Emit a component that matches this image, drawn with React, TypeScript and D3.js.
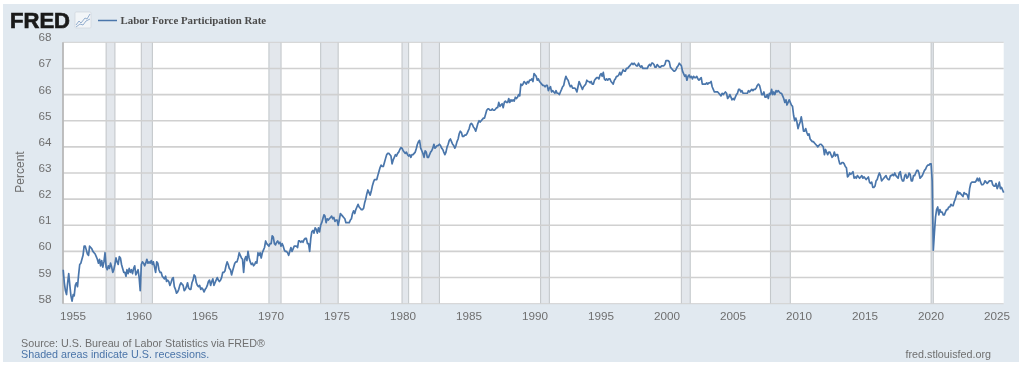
import React from "react";
import * as d3 from "d3";

const startYear = 1954;
const startMonth = 4; // May
const rate: number[][] = [
  [59.3,58.8,58.5,58.35,58.8,59.15,58.7,58.3],
  [58.1,58.35,58.3,58.7,58.8,58.65,59.1,59.5,59.55,59.7,59.85,60.2],
  [60.2,60.05,59.9,59.85,60.2,60.15,60.1,60.0,59.95,59.9,59.8,59.7],
  [59.55,59.7,59.45,59.65,59.4,59.6,59.95,59.4,59.3,59.45,59.35,59.55],
  [59.4,59.2,59.3,59.5,59.75,59.6,59.5,59.8,59.75,59.5,59.35,59.2],
  [59.2,59.05,59.3,59.15,59.35,59.2,59.3,59.15,59.35,59.45,59.1,59.2],
  [59.3,59.0,58.5,59.5,59.6,59.55,59.45,59.55,59.7,59.55,59.6,59.55],
  [59.65,59.5,59.6,59.4,59.2,59.6,59.55,59.3,59.2,59.2,59.05,59.0],
  [58.95,59.05,58.85,58.9,58.85,58.7,58.8,58.95,59.0,58.65,58.55,58.4],
  [58.45,58.55,58.7,58.8,58.75,58.7,58.5,58.55,58.65,58.8,58.6,58.55],
  [58.55,58.8,58.9,59.1,59.05,58.8,58.7,58.65,58.7,58.55,58.6,58.55],
  [58.45,58.55,58.6,58.7,58.85,58.9,58.7,58.85,58.95,58.7,58.8,58.9],
  [59.0,58.9,58.85,58.9,59.0,59.2,59.2,59.25,59.45,59.6,59.5,59.35],
  [59.3,59.1,59.25,59.4,59.55,59.6,59.6,59.75,59.95,59.85,59.75,59.7],
  [59.2,59.7,59.8,59.65,60.0,59.75,59.6,59.5,59.55,59.45,59.5,59.6],
  [59.55,59.95,59.85,59.95,59.75,59.95,60.05,60.15,60.4,60.3,60.25,60.2],
  [60.3,60.3,60.6,60.55,60.3,60.25,60.35,60.4,60.3,60.35,60.2,60.3],
  [60.2,60.05,60.0,60.0,59.95,59.85,60.0,60.15,60.0,60.1,60.2,60.2],
  [60.2,60.15,60.4,60.4,60.35,60.4,60.35,60.45,60.5,60.5,60.3,60.3],
  [60.0,60.5,60.75,60.8,60.7,60.9,60.85,60.7,60.9,60.75,61.0,61.1],
  [61.25,61.4,61.35,61.1,61.25,61.2,61.25,61.3,61.35,61.25,61.3,61.15],
  [61.2,61.2,61.0,61.2,61.45,61.4,61.35,61.3,61.25,61.1,61.1,61.1],
  [61.1,61.2,61.25,61.45,61.55,61.45,61.6,61.7,61.8,61.7,61.65,61.6],
  [61.6,61.65,61.85,62.0,62.2,62.35,62.25,62.15,62.3,62.5,62.65,62.75],
  [62.75,62.75,62.9,63.05,63.2,63.3,63.25,63.25,63.4,63.55,63.7,63.75],
  [63.75,63.7,63.65,63.35,63.5,63.6,63.7,63.65,63.75,63.8,63.9,63.97],
  [63.95,63.85,63.8,63.75,63.8,63.7,63.65,63.7,63.6,63.7,63.7,63.75],
  [63.8,63.95,64.1,64.2,64.25,63.95,63.85,63.75,63.6,63.85,63.8,63.6],
  [63.6,63.7,63.8,63.85,63.95,64.1,63.95,64.0,64.05,64.05,64.1,64.05],
  [63.95,63.9,63.8,63.7,63.8,64.0,64.1,64.25,64.3,64.2,64.1,64.05],
  [63.95,64.05,64.2,64.3,64.5,64.6,64.55,64.4,64.4,64.45,64.45,64.5],
  [64.6,64.7,64.85,64.9,64.85,64.75,64.7,64.6,64.75,64.9,65.0,64.95],
  [65.0,65.05,65.1,65.1,65.25,65.4,65.45,65.45,65.4,65.4,65.45,65.4],
  [65.4,65.45,65.5,65.5,65.7,65.55,65.6,65.65,65.5,65.7,65.75,65.7],
  [65.7,65.85,65.7,65.8,65.75,65.8,65.75,65.9,65.85,65.9,66.0,65.95],
  [66.4,66.35,66.4,66.5,66.45,66.4,66.5,66.45,66.55,66.55,66.6,66.5],
  [66.8,66.75,66.7,66.55,66.6,66.5,66.45,66.4,66.35,66.35,66.3,66.35],
  [66.35,66.15,66.25,66.3,66.1,66.15,66.1,66.05,66.15,66.05,66.05,66.0],
  [66.1,66.2,66.3,66.35,66.55,66.7,66.6,66.55,66.4,66.3,66.35,66.25],
  [66.25,66.25,66.2,66.1,66.3,66.5,66.4,66.3,66.2,66.3,66.35,66.4],
  [66.55,66.5,66.5,66.45,66.5,66.4,66.4,66.55,66.6,66.65,66.65,66.6],
  [66.75,66.8,66.7,66.85,66.6,66.55,66.6,66.55,66.6,66.6,66.5,66.45],
  [66.4,66.55,66.6,66.7,66.7,66.75,66.85,66.75,66.85,66.95,66.9,66.9],
  [67.0,67.0,67.05,67.1,67.15,67.2,67.15,67.2,67.15,67.1,67.1,67.2],
  [67.1,67.05,67.1,67.0,67.0,67.0,67.0,67.0,67.1,67.15,67.1,67.2],
  [67.2,67.15,67.05,67.05,67.15,67.1,67.05,67.05,67.1,67.1,67.1,67.15],
  [67.3,67.3,67.3,67.25,67.05,67.0,66.95,66.9,66.9,66.95,67.05,67.1],
  [67.2,67.15,67.1,66.9,66.8,66.7,66.75,66.55,66.7,66.75,66.65,66.7],
  [66.6,66.7,66.65,66.65,66.7,66.6,66.55,66.6,66.65,66.4,66.4,66.4],
  [66.4,66.45,66.4,66.45,66.45,66.5,66.3,66.2,66.1,66.1,66.1,66.1],
  [66.05,66.0,65.95,66.05,66.0,66.05,66.1,66.05,65.85,65.9,66.0,65.9],
  [65.8,65.85,65.8,65.9,66.0,66.05,66.2,66.2,66.1,66.15,66.05,66.05],
  [66.05,66.05,66.05,66.15,66.1,66.15,66.2,66.15,66.2,66.2,66.25,66.35],
  [66.4,66.35,66.2,66.0,66.0,66.1,65.9,65.9,66.0,65.85,66.05,66.0],
  [66.2,66.0,66.1,66.0,66.15,66.1,66.15,66.1,66.05,66.05,65.95,65.85],
  [65.7,65.8,65.6,65.7,65.8,65.7,65.6,65.55,65.2,65.0,65.1,64.95],
  [64.7,64.85,64.95,65.15,64.9,64.6,64.6,64.7,64.55,64.45,64.5,64.3],
  [64.25,64.2,64.2,64.15,64.1,64.05,64.0,64.05,64.1,64.1,64.05,64.0],
  [63.7,63.9,63.8,63.7,63.8,63.8,63.7,63.6,63.65,63.8,63.65,63.7],
  [63.7,63.5,63.35,63.35,63.4,63.4,63.35,63.25,63.2,62.85,62.9,63.0],
  [62.95,63.0,63.05,62.8,62.85,62.8,62.9,62.85,62.8,62.85,62.9,62.8],
  [62.85,62.8,62.75,62.8,62.85,62.65,62.6,62.65,62.45,62.45,62.5,62.7],
  [62.75,62.9,63.0,62.9,62.7,62.75,62.8,62.85,62.9,62.8,62.75,62.75],
  [62.9,62.9,62.95,62.9,63.0,62.9,62.85,62.8,63.0,63.05,62.8,62.7],
  [62.7,62.9,62.95,62.8,62.85,63.0,62.95,62.7,62.7,62.9,62.9,63.0],
  [63.1,63.1,63.0,62.8,62.85,62.9,63.0,63.1,63.15,63.25,63.3,63.3],
  [63.35,63.35,62.7,60.05,60.7,61.3,61.6,61.7,61.4,61.6,61.5,61.5],
  [61.4,61.4,61.5,61.6,61.6,61.7,61.7,61.8,61.75,61.75,61.9,62.0],
  [62.15,62.3,62.2,62.25,62.2,62.15,62.1,62.25,62.2,62.2,62.15,62.0],
  [62.4,62.6,62.65,62.65,62.65,62.65,62.7,62.8,62.7,62.8,62.65,62.55],
  [62.55,62.6,62.7,62.65,62.6,62.65,62.7,62.7,62.7,62.55,62.5,62.5],
  [62.6,62.4,62.5,62.65,62.4,62.45,62.35,62.25],
];
const recessions: [string, string][] = [
  ["1957-08", "1958-04"], ["1960-04", "1961-02"], ["1969-12", "1970-11"],
  ["1973-11", "1975-03"], ["1980-01", "1980-07"], ["1981-07", "1982-11"],
  ["1990-07", "1991-03"], ["2001-03", "2001-11"], ["2007-12", "2009-06"],
  ["2020-02", "2020-04"],
];
const yTicks = [58, 59, 60, 61, 62, 63, 64, 65, 66, 67, 68];
const seriesName = "Labor Force Participation Rate";

const parse = d3.timeParse("%Y-%m");
const points = rate.flatMap((row, i) =>
  row.map((v, j) => ({
    date: new Date(startYear + i, i === 0 ? startMonth + j : j, 1),
    v,
  }))
);

const W = 1024, H = 365;
const x = d3.scaleTime()
  .domain([points[0].date, points[points.length - 1].date])
  .range([63.2, 1003.7]);
const y = d3.scaleLinear().domain([58, 68]).range([303.7, 42.3]);
const line = d3.line<{ date: Date; v: number }>().x(d => x(d.date)).y(d => y(d.v));
const xTicks = d3.timeYear.range(new Date(1955, 0, 1), new Date(2026, 0, 1), 5);

const sans = "'Liberation Sans', Arial, sans-serif";
const grey = "#6f6f6f";
const blue = "#4a76ab";

export default function App() {
  return (
    <svg width={W} height={H} viewBox={`0 0 ${W} ${H}`}
      style={{ position: "absolute", left: 0, top: 0, filter: "blur(0.45px)" }}>
      <rect width={W} height={H} fill="#fff" />
      <rect x={3} y={4} width={1016} height={358} fill="#e1e9f0" />
      <rect x={x.range()[0]} y={y(68)} width={x.range()[1] - x.range()[0]} height={y(58) - y(68)} fill="#fff" />

      {recessions.map(([a, b]) => {
        const x0 = x(parse(a)!), x1 = x(parse(b)!);
        return (
          <g key={a}>
            <rect x={x0} y={y(68)} width={x1 - x0} height={y(58) - y(68)} fill="#e3e7ec" />
            <line x1={x0} x2={x0} y1={y(68)} y2={y(58)} stroke="#c4c8cb" strokeWidth={1.1} />
            <line x1={x1} x2={x1} y1={y(68)} y2={y(58)} stroke="#c4c8cb" strokeWidth={1.1} />
          </g>
        );
      })}

      {yTicks.map(t => (
        <g key={t}>
          <line x1={x.range()[0]} x2={x.range()[1]} y1={y(t)} y2={y(t)} stroke="#d0d0d0"
            strokeWidth={t === 58 || t === 68 ? 1 : 1.6} />
          <text x={51.5} y={y(t) - 1} textAnchor="end" fontFamily={sans} fontSize={11.7} fill={grey}>{t}</text>
        </g>
      ))}
      <line x1={63} x2={63} y1={y(68)} y2={y(58)} stroke="#b8b8b8" strokeWidth={1.8} />

      <path d={line(points)!} fill="none" stroke={blue} strokeWidth={1.7} strokeLinejoin="round" />

      {xTicks.map(t => (
        <text key={+t} x={x(t) + 1} y={319.5} textAnchor="middle" fontFamily={sans} fontSize={11.7} fill={grey}>
          {d3.timeFormat("%Y")(t)}
        </text>
      ))}

      <text transform="translate(23.5,172) rotate(-90)" textAnchor="middle" fontFamily={sans} fontSize={12} fill={grey}>Percent</text>

      <text x={10} y={28} fontFamily={sans} fontWeight={700} fontSize={22.5} fill="#1a1a1a" stroke="#1a1a1a" strokeWidth={0.7}
        textLength={60} lengthAdjust="spacingAndGlyphs">FRED</text>
      <g>
        <rect x={75} y={12} width={16} height={16} fill="#f2f5f8" stroke="#cfd6dd" strokeWidth={0.7} rx={1} />
        <path d="M76 25 L79 21 L81 23 L85 18 L87 19 L90 14" fill="none" stroke="#7b9cc4" strokeWidth={0.8} />
        <path d="M76 27 L80 24 L83 25 L86 21 L90 19" fill="none" stroke="#7b9cc4" strokeWidth={0.8} />
      </g>
      <line x1={98} x2={117} y1={20.5} y2={20.5} stroke={blue} strokeWidth={1.5} />
      <text x={120.5} y={23.5} fontFamily="'Liberation Serif', serif" fontWeight={700} fontSize={10.85} fill="#4b4b4b">{seriesName}</text>

      <text x={21} y={346.5} fontFamily={sans} fontSize={10.75} fill={grey}>Source: U.S. Bureau of Labor Statistics via FRED®</text>
      <text x={21} y={358} fontFamily={sans} fontSize={10.75} fill="#4a74a8">Shaded areas indicate U.S. recessions.</text>
      <text x={991} y={358} textAnchor="end" fontFamily={sans} fontSize={10.75} fill={grey}>fred.stlouisfed.org</text>
    </svg>
  );
}
